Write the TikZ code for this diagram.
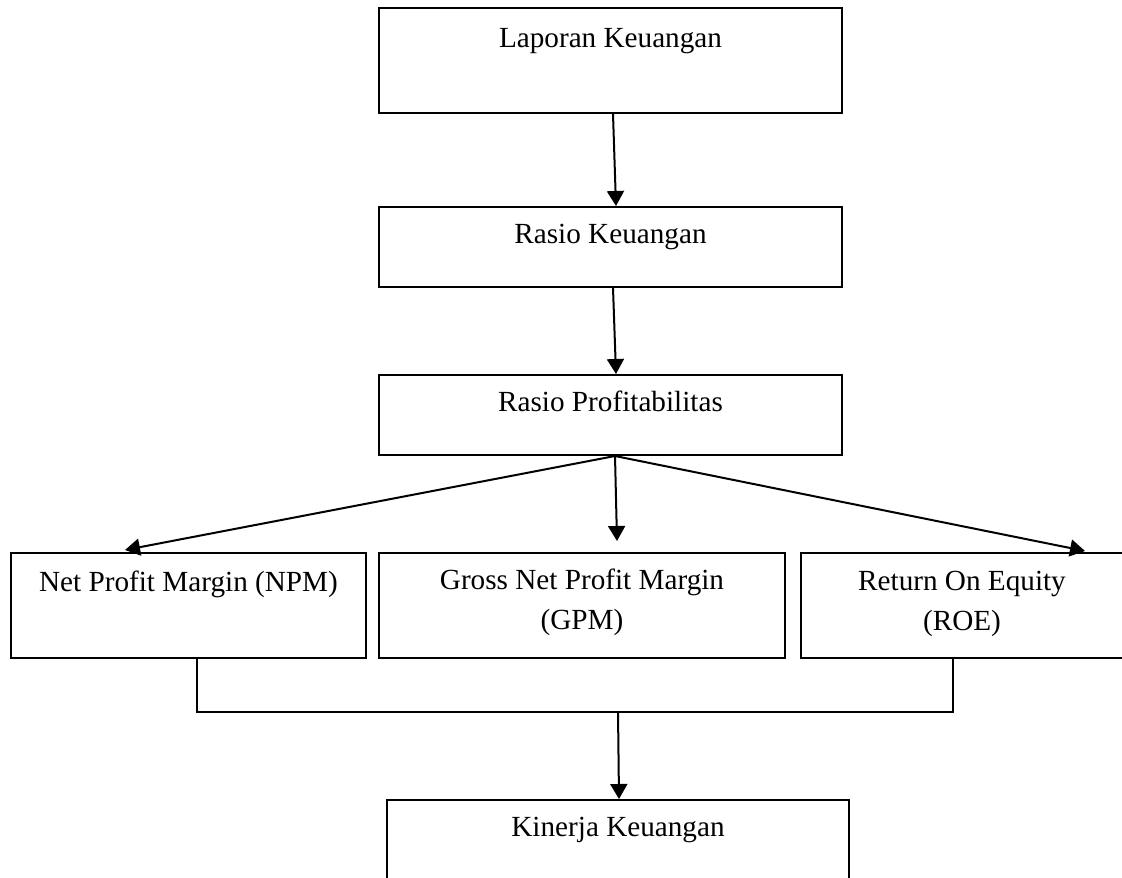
\documentclass[tikz,border=0pt]{standalone}
\usepackage{fontspec}
\setmainfont{Liberation Serif}
\usetikzlibrary{arrows.meta}

\tikzset{
        kotak/.style={draw, line width=1pt, rectangle, inner sep=0pt, anchor=north, align=center, text height=18pt, font=\fontsize{14.6}{20}\selectfont},
        panah/.style={line width=1pt, -{Triangle[width=8.5pt,length=7.5pt]}},
        garis/.style={line width=1pt}
}

\begin{document}
\begin{tikzpicture}[x=0.5pt,y=-0.5pt]
        \useasboundingbox (0,0) rectangle (1122,877);
        \node[kotak, minimum width=231.5pt, text height=20pt, text depth=32.5pt](lap) at (610.5,7) {Laporan Keuangan};
        \node[kotak, minimum width=231.5pt, text depth=22pt](rk) at (610.5,206) {Rasio Keuangan};
        \node[kotak, minimum width=231.5pt, text depth=22pt](rp) at (610.5,374) {Rasio Profitabilitas};
        \node[kotak, minimum width=177.5pt, text height=19pt, text depth=33.5pt](npm) at (188.5,552) {Net Profit Margin (NPM)};
        \node[kotak, minimum width=203pt, text height=38pt, text depth=14.5pt](gpm) at (582,552) {Gross Net Profit Margin\\(GPM)};
        \node[kotak, minimum width=161pt, text height=38.5pt, text depth=14pt](roe) at (962,552) {Return On Equity\\(ROE)};
        \node[kotak, minimum width=231pt, text depth=35pt](kin) at (618,799) {Kinerja Keuangan};
        \coordinate(tengah) at (618,712);
        \draw[panah]([xshift=1.25pt]lap.south)--([xshift=2.75pt]rk.north);
        \draw[panah]([xshift=1.25pt]rk.south)--([xshift=2.75pt]rp.north);
        \draw[panah]([xshift=2.25pt]rp.south)--([xshift=-31.75pt,yshift=1pt]npm.north);
        \draw[panah]([xshift=2.25pt]rp.south)--([xshift=17.5pt,yshift=5.5pt]gpm.north);
        \draw[panah]([xshift=2.25pt]rp.south)--([xshift=61.5pt,yshift=0.5pt]roe.north);
        \draw[garis]([xshift=4.25pt]npm.south)|-(tengah)-|([xshift=-4.5pt]roe.south);
        \draw[panah](tengah)--([xshift=0.5pt]kin.north);
        \end{tikzpicture}
\end{document}
